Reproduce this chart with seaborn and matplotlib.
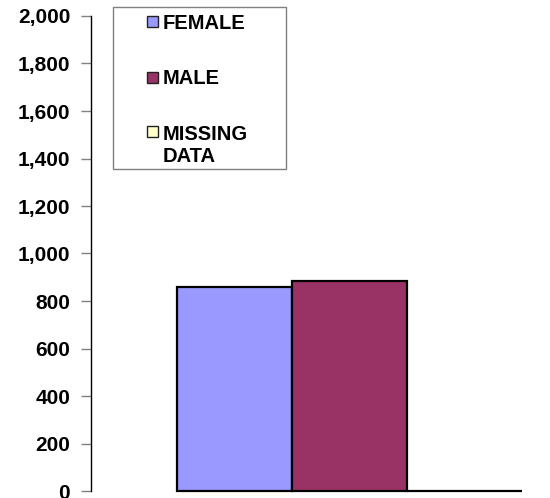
import matplotlib

matplotlib.use("Agg")
import matplotlib.pyplot as plt
import pandas as pd
import seaborn as sns
from matplotlib.legend_handler import HandlerPatch
from matplotlib.patches import Rectangle
from matplotlib.ticker import FuncFormatter

sns.set_style("ticks")
plt.rcParams["font.family"] = ["Liberation Sans", "DejaVu Sans"]
plt.rcParams["font.weight"] = "bold"
plt.rcParams["text.color"] = "black"

# data
groups = ["FEMALE", "MALE", "MISSING DATA"]
counts = [859, 884, 0]
colors = ["#9999FF", "#993366", "#FFFFCC"]
legend_labels = ["FEMALE", "MALE", "MISSING\nDATA"]
y_ticks = list(range(0, 2001, 200))

df = pd.DataFrame({"category": [""] * len(groups), "group": groups, "count": counts})

fig = plt.figure(figsize=(5.5, 4.98), dpi=100)
ax = fig.add_axes([91 / 550, 7 / 498, 459 / 550, 475 / 498])

sns.barplot(
    data=df,
    x="category",
    y="count",
    hue="group",
    hue_order=groups,
    palette=dict(zip(groups, colors)),
    saturation=1,
    width=0.8,
    errorbar=None,
    edgecolor="black",
    linewidth=1.6,
    legend=False,
    ax=ax,
)
for p in ax.patches:
    p.set_clip_on(False)

ax.set_ylim(0, 2000)
ax.set_xlim(-0.6, 0.465)
ax.set_yticks(y_ticks)
ax.yaxis.set_major_formatter(FuncFormatter(lambda v, pos: f"{int(v):,}"))
ax.tick_params(axis="y", direction="out", length=7, width=1, color="#808080",
               labelcolor="black", pad=8, labelsize=15)
ax.set_xticks([])
ax.set_xlabel("")
ax.set_ylabel("")
for side in ["top", "right", "bottom"]:
    ax.spines[side].set_visible(False)
ax.spines["left"].set_color("black")
ax.spines["left"].set_linewidth(1)


# legend: small squares, the two-line entry keeps its square on the first line
def square(legend, orig_handle, xdescent, ydescent, width, height, fontsize):
    return Rectangle((-xdescent, -ydescent + (height - width) / 2), width, width)


def square_top(legend, orig_handle, xdescent, ydescent, width, height, fontsize):
    return Rectangle((-xdescent, -ydescent + (height - width) / 2 + 0.7 * fontsize),
                     width, width)


handles = [Rectangle((0, 0), 1, 1, facecolor=c, edgecolor="#222222", linewidth=1)
           for c in colors]
handler_map = {h: HandlerPatch(patch_func=square) for h in handles[:2]}
handler_map[handles[2]] = HandlerPatch(patch_func=square_top)

leg = ax.legend(
    handles,
    legend_labels,
    handler_map=handler_map,
    loc="upper left",
    bbox_to_anchor=(147 / 550, 1 - 14 / 498),
    bbox_transform=fig.transFigure,
    frameon=False,
    borderpad=0,
    borderaxespad=0,
    prop={"weight": "bold", "size": 14.5},
    handlelength=0.55,
    handleheight=0.55,
    handletextpad=0.25,
    labelspacing=1.8,
)
for t in leg.get_texts():
    t.set_linespacing(1.2)
    t.set_color("black")
fig.add_artist(Rectangle((113 / 550, 1 - 169 / 498), 173 / 550, 162 / 498,
                         transform=fig.transFigure, fill=False,
                         edgecolor="#808080", linewidth=1))

fig.savefig("out.png", dpi=100)
